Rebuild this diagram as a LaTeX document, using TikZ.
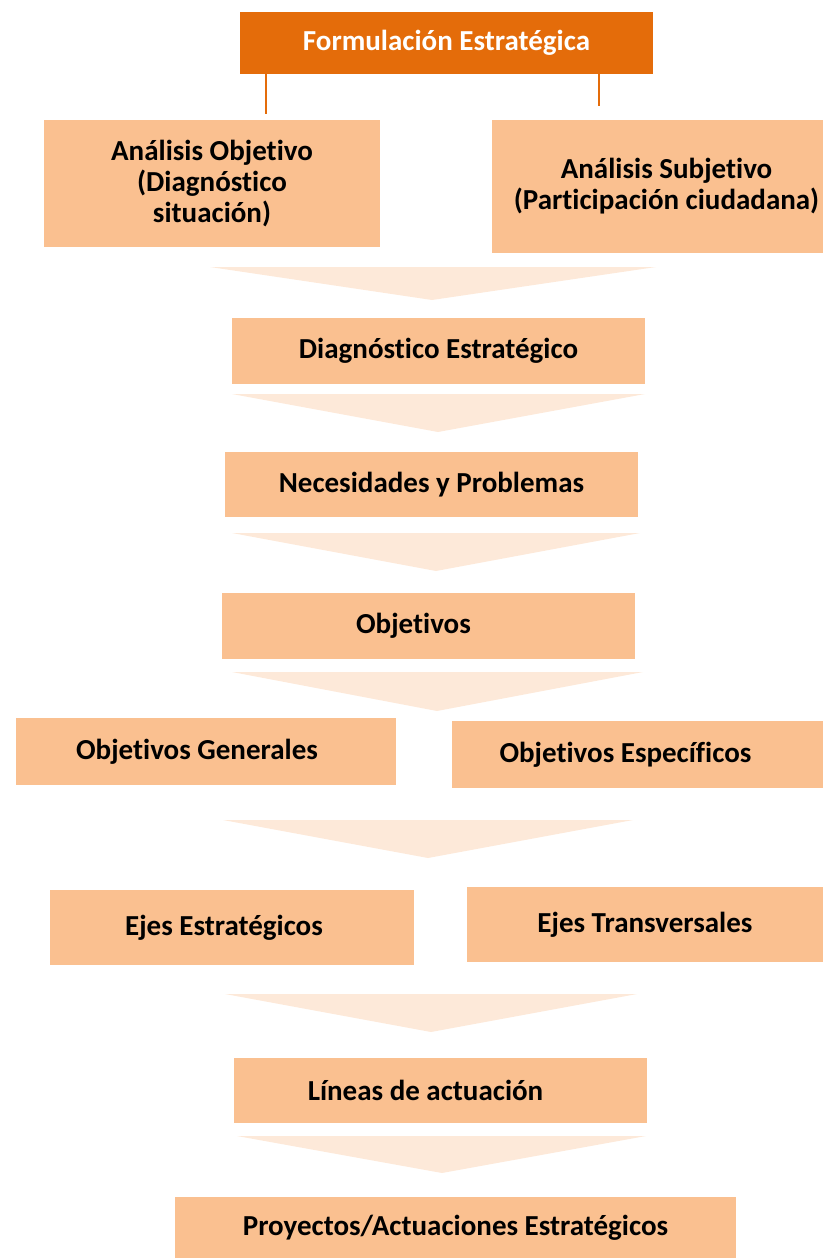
\documentclass[tikz,border=0pt]{standalone}
\usepackage{fontspec}
\setmainfont{Carlito}[Ligatures=NoCommon]
\usepackage{xcolor}
\usepackage{tikz}
\usetikzlibrary{positioning}
\definecolor{naranja}{HTML}{E46C0A}
\definecolor{naranjaclaro}{HTML}{FAC090}
\definecolor{naranjapalido}{HTML}{FDE9D9}
\tikzset{
    caja/.style={
        rectangle,
        fill=naranjaclaro,
        align=center,
        inner sep=0pt,
        font=\fontsize{29}{31}\selectfont\bfseries
    },
    titulo/.style={caja, fill=naranja, text=white},
    flecha/.style={fill=naranjapalido},
    linea/.style={draw=naranja, line width=1.5pt}
}

\begin{document}
\begin{tikzpicture}[x=1pt, y=-1pt]
        \useasboundingbox (0,0) rectangle (823,1259);

        \node[titulo, minimum width=413pt, minimum height=62pt] (form)
            at (446.5,43) {Formulación Estratégica};

        \node[caja, minimum width=336pt, minimum height=127pt] (aobj)
            at (212,183.5) {Análisis Objetivo\\(Diagnóstico\\situación)};
        \node[caja, minimum width=331pt, minimum height=133pt] (asubj)
            at (657.5,186.5) {\hspace*{18pt}Análisis Subjetivo\\\hspace*{18pt}(Participación ciudadana)};

        \node[caja, minimum width=413pt, minimum height=66pt] (diag)
            at (438.5,351) {Diagnóstico Estratégico};
        \node[caja, minimum width=413pt, minimum height=65pt] (nec)
            at (431.5,484.5) {Necesidades y Problemas};
        \node[caja, minimum width=413pt, minimum height=66pt] (obj)
            at (428.5,626) {Objetivos\hspace*{30pt}};

        \node[caja, minimum width=380pt, minimum height=67pt] (ogen)
            at (206,751.5) {Objetivos Generales\hspace*{18pt}};
        \node[caja, minimum width=371pt, minimum height=67pt] (oesp)
            at (637.5,754.5) {Objetivos Específicos\hspace*{24pt}};

        \node[caja, minimum width=364pt, minimum height=75pt] (ejes)
            at (232,927.5) {Ejes Estratégicos\hspace*{16pt}};
        \node[caja, minimum width=356pt, minimum height=75pt] (ejet)
            at (645,924.5) {Ejes Transversales};

        \node[caja, minimum width=413pt, minimum height=65pt] (lin)
            at (440.5,1090.5) {Líneas de actuación\hspace*{30pt}};
        \node[caja, minimum width=561pt, minimum height=61pt] (proy)
            at (455.5,1227.5) {Proyectos/Actuaciones Estratégicos};

        \coordinate (izq) at (266,114);
        \coordinate (der) at (599,106);
        \draw[linea] (izq |- form.south) -- (izq);
        \draw[linea] (der |- form.south) -- (der);

        \fill[flecha] (210,267) -- (656,267) -- (432,300) -- cycle;
        \fill[flecha] (232,394) -- (645,394) -- (438,432) -- cycle;
        \fill[flecha] (232,533) -- (640,533) -- (436,571) -- cycle;
        \fill[flecha] (232,672) -- (643,672) -- (437,711) -- cycle;
        \fill[flecha] (223,820) -- (633,820) -- (428,858) -- cycle;
        \fill[flecha] (225,994) -- (637,994) -- (431,1032) -- cycle;
        \fill[flecha] (237,1136) -- (646,1136) -- (442,1173) -- cycle;
    \end{tikzpicture}
\end{document}
